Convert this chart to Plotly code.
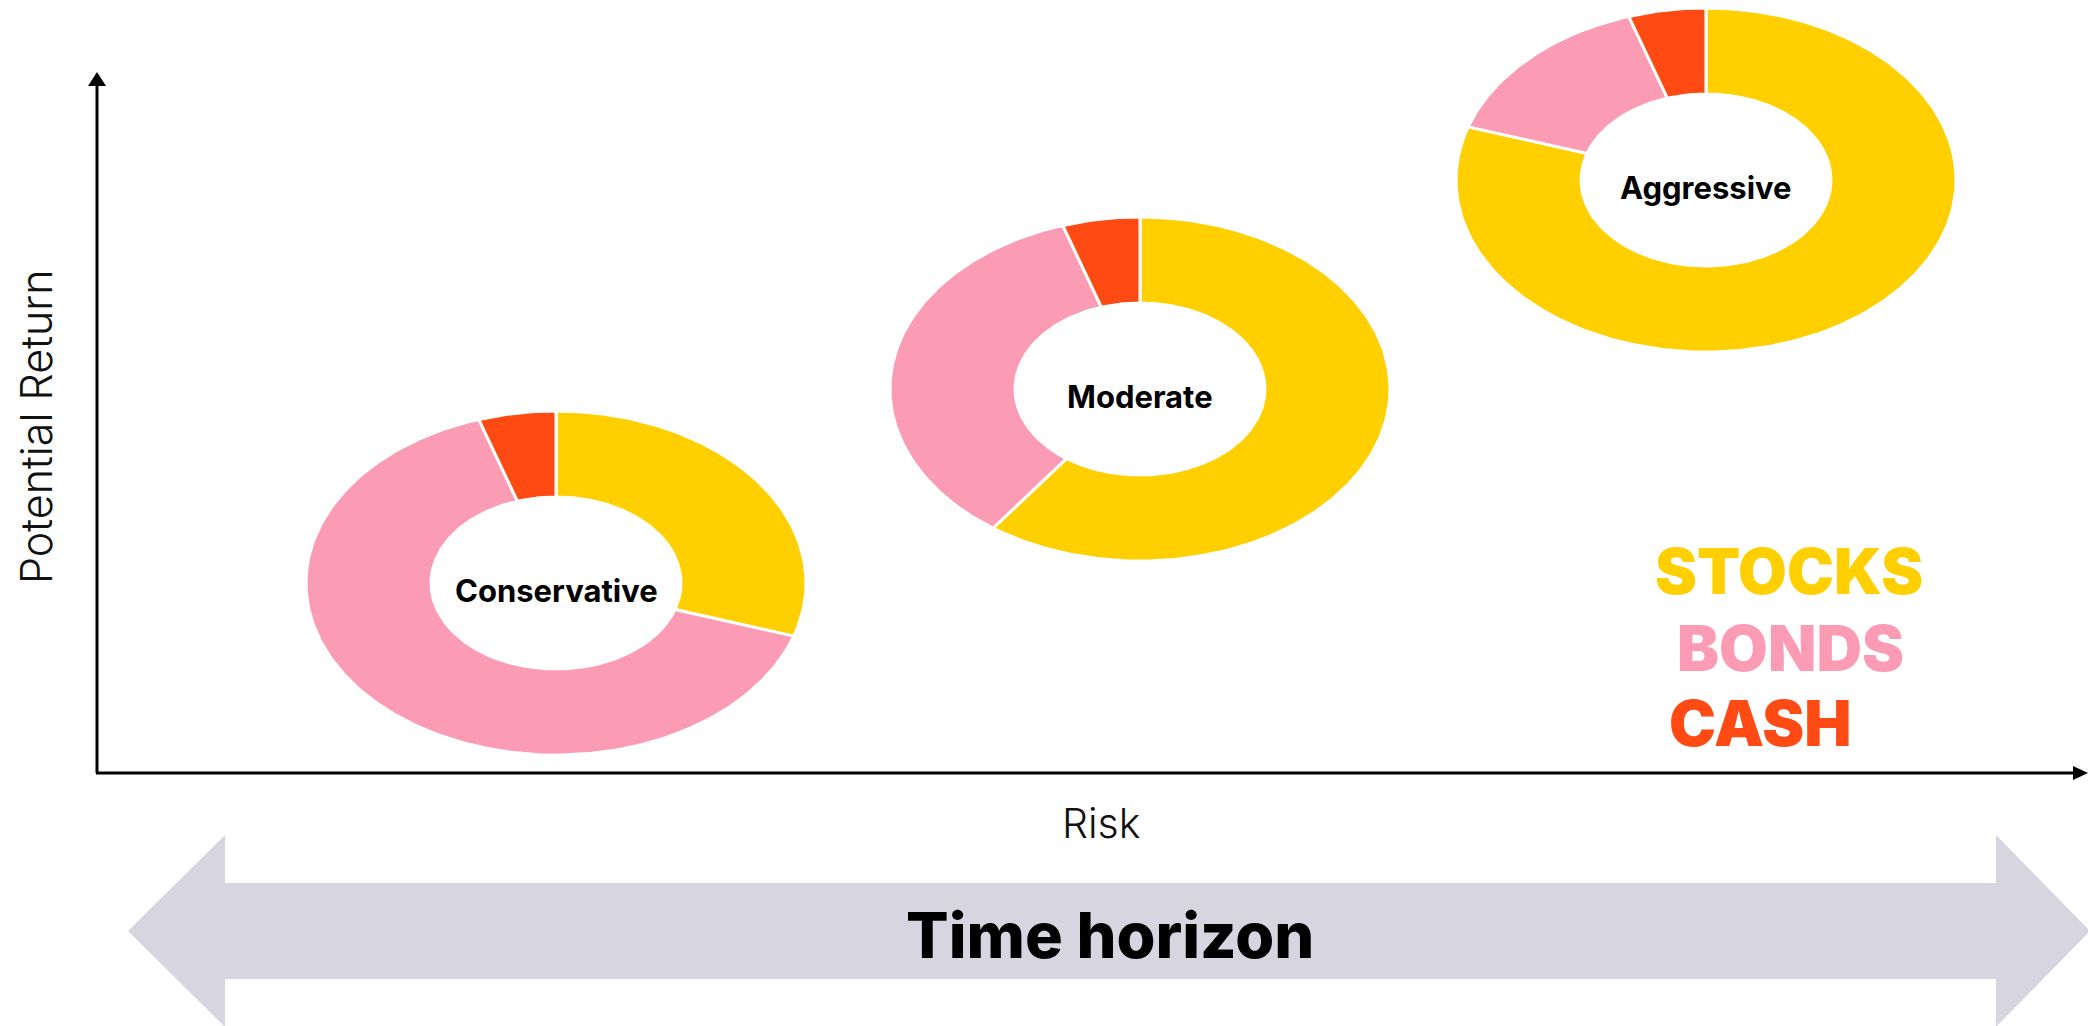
import numpy as np
import plotly.graph_objects as go

# ---- data ----
portfolios = ["Conservative", "Moderate", "Aggressive"]
asset_classes = ["STOCKS", "BONDS", "CASH"]
stocks = [30, 60, 80]
bonds = [65, 35, 15]
cash = [5, 5, 5]
x_label = "Risk"
y_label = "Potential Return"
band_label = "Time horizon"

# ---- layout constants (pixels) ----
W, H = 2088, 1026
colors = {"STOCKS": "#FFCF00", "BONDS": "#FC9BB4", "CASH": "#FF4A14"}
centers = [(556, 583), (1140, 389), (1706, 180)]
RX, RY, HOLE = 250, 172, 0.5

fig = go.Figure()

def slice_poly(cx, cy, a0, a1):
    n = max(int(abs(a1 - a0) / 1.0) + 2, 4)
    th = np.radians(np.linspace(a0, a1, n))
    xo = cx + RX * np.sin(th)
    yo = cy - RY * np.cos(th)
    xi = cx + RX * HOLE * np.sin(th[::-1])
    yi = cy - RY * HOLE * np.cos(th[::-1])
    return np.concatenate([xo, xi, xo[:1]]), np.concatenate([yo, yi, yo[:1]])

for i, name in enumerate(portfolios):
    vals = [stocks[i], bonds[i], cash[i]]
    tot = sum(vals)
    start = 0.0
    cx, cy = centers[i]
    for ac, v in zip(asset_classes, vals):
        end = start + 360.0 * v / tot
        xs, ys = slice_poly(cx, cy, start, end)
        fig.add_trace(go.Scatter(
            x=xs, y=ys, mode="lines", fill="toself",
            fillcolor=colors[ac], line=dict(color="white", width=3),
            hoverinfo="text", text=f"{name}: {ac} {v}%", showlegend=False))
        start = end
    fig.add_annotation(x=cx, y=cy, text=name, showarrow=False,
                       yshift=-7, font=dict(family="Inter", size=31, color="black", weight=700))

shapes = []
# axes
shapes.append(dict(type="line", x0=97, y0=773, x1=97, y1=84, line=dict(color="black", width=3)))
shapes.append(dict(type="line", x0=96, y0=773, x1=2076, y1=773, line=dict(color="black", width=3)))
shapes.append(dict(type="path", path="M 88,86 L 97,72 L 106,86 Z", fillcolor="black", line=dict(width=0)))
shapes.append(dict(type="path", path="M 2073,766 L 2088,773 L 2073,780 Z", fillcolor="black", line=dict(width=0)))
# time horizon double arrow
shapes.append(dict(type="path",
                   path="M 128,931 L 225,835 L 225,883 L 1996,883 L 1996,835 L 2090,931 "
                        "L 1996,1027 L 1996,979 L 225,979 L 225,1027 Z",
                   fillcolor="#D6D5E0", line=dict(width=0), layer="below"))

fig.add_annotation(x=1101, y=823, text=x_label, showarrow=False,
                   font=dict(family="Inter", size=41, color="#111111", weight=300))
fig.add_annotation(x=36, y=427, text=y_label, showarrow=False, textangle=-90,
                   font=dict(family="Inter", size=43, color="#111111", weight=300))
fig.add_annotation(x=1110, y=935, text=band_label, showarrow=False,
                   font=dict(family="Inter", size=63, color="black", weight=800))

legend_pos = [(1789, 571), (1790, 648), (1760, 723)]
for ac, (lx, ly) in zip(asset_classes, legend_pos):
    fig.add_annotation(x=lx, y=ly, text=ac, showarrow=False,
                       font=dict(family="Inter", size=63, color=colors[ac], weight=900))

fig.update_layout(
    width=W, height=H, margin=dict(l=0, r=0, t=0, b=0),
    paper_bgcolor="white", plot_bgcolor="white", shapes=shapes,
    xaxis=dict(range=[0, W], visible=False, fixedrange=True),
    yaxis=dict(range=[H, 0], visible=False, fixedrange=True),
    showlegend=False,
)
fig.write_html("out.html")
